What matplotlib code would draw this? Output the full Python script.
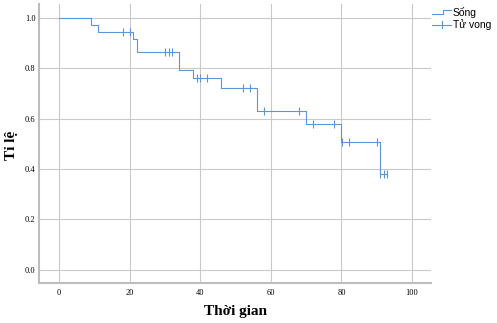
import numpy as np
import matplotlib
matplotlib.use("Agg")
import matplotlib.pyplot as plt
from matplotlib.lines import Line2D
from matplotlib.legend_handler import HandlerBase

# Kaplan-Meier steps
step_times = [0, 9, 11, 21, 22, 34, 38, 46, 56, 70, 80, 91]
step_surv = [1.0, 0.973, 0.946, 0.918, 0.863, 0.795, 0.762, 0.722, 0.632, 0.580, 0.509, 0.380]
censor_times = [18, 20, 30, 31, 32, 39, 40, 42, 52, 54, 58, 68, 72, 78, 80.2, 82, 90.2, 91, 92, 93]
end_time = 93

x_ticks = [0, 20, 40, 60, 80, 100]
y_ticks = [0.0, 0.2, 0.4, 0.6, 0.8, 1.0]

LINE = "#5b95dc"
GRID = "#c9c9c9"


class StepHandler(HandlerBase):
    def create_artists(self, legend, orig, xd, yd, w, h, fontsize, trans):
        xs = [xd, xd + 0.55 * w, xd + 0.55 * w, xd + w]
        ys = [yd + 0.3 * h, yd + 0.3 * h, yd + 0.9 * h, yd + 0.9 * h]
        ln = Line2D(xs, ys, color=LINE, lw=0.8, transform=trans)
        return [ln]


class PlusHandler(HandlerBase):
    def create_artists(self, legend, orig, xd, yd, w, h, fontsize, trans):
        ln = Line2D([xd, xd + w], [yd + 0.5 * h] * 2, color=LINE, lw=0.8, transform=trans)
        v = Line2D([xd + 0.5 * w] * 2, [yd, yd + h], color=LINE, lw=0.8, transform=trans)
        return [ln, v]


fig = plt.figure(figsize=(4.97, 3.23), dpi=100)
ax = fig.add_axes([0.0785, 0.124, 0.789, 0.864])

xs = step_times + [end_time]
ys = step_surv + [step_surv[-1]]
ax.step(xs, ys, where="post", color=LINE, lw=0.8, zorder=3)

idx = np.searchsorted(step_times, censor_times, side="right") - 1
c_surv = np.array(step_surv)[idx]
ax.plot(censor_times, c_surv, ls="none", marker="|", ms=6, mew=0.8, color=LINE, zorder=3)

ax.set_xlim(-5.7, 105.4)
ax.set_ylim(-0.052, 1.056)
ax.set_xticks(x_ticks)
ax.set_yticks(y_ticks)
ax.set_xticklabels([str(t) for t in x_ticks], family="Liberation Serif", fontsize=6)
ax.set_yticklabels([f"{t:.1f}" for t in y_ticks], family="Liberation Serif", fontsize=6)
ax.tick_params(length=0)
ax.tick_params(axis="x", pad=4)
ax.tick_params(axis="y", pad=2.5)
ax.grid(True, color=GRID, lw=0.8)
ax.set_axisbelow(True)
for s in ["top", "right"]:
    ax.spines[s].set_visible(False)
for s in ["left", "bottom"]:
    ax.spines[s].set_color("#bdbdbd")
    ax.spines[s].set_linewidth(1.5)

fig.text(236 / 497, 1 - 311 / 323, "Thời gian", family="Liberation Serif", fontweight="bold",
         fontsize=11, ha="center", va="center")
fig.text(11 / 497, 1 - 145 / 323, "Tỉ lệ", family="Liberation Serif", fontweight="bold",
         fontsize=11, ha="center", va="center", rotation=90)

h1 = Line2D([], [], color=LINE)
h2 = Line2D([], [], color=LINE)
fig.legend([h1, h2], ["Sống", "Tử vong"], loc="upper left", bbox_to_anchor=(0.855, 1.0),
           frameon=False, prop={"family": "Liberation Sans", "size": 7.5},
           handler_map={h1: StepHandler(), h2: PlusHandler()},
           handlelength=1.8, handletextpad=0.2, labelspacing=0.1, borderaxespad=0.3)

fig.savefig("out.png", dpi=100)
